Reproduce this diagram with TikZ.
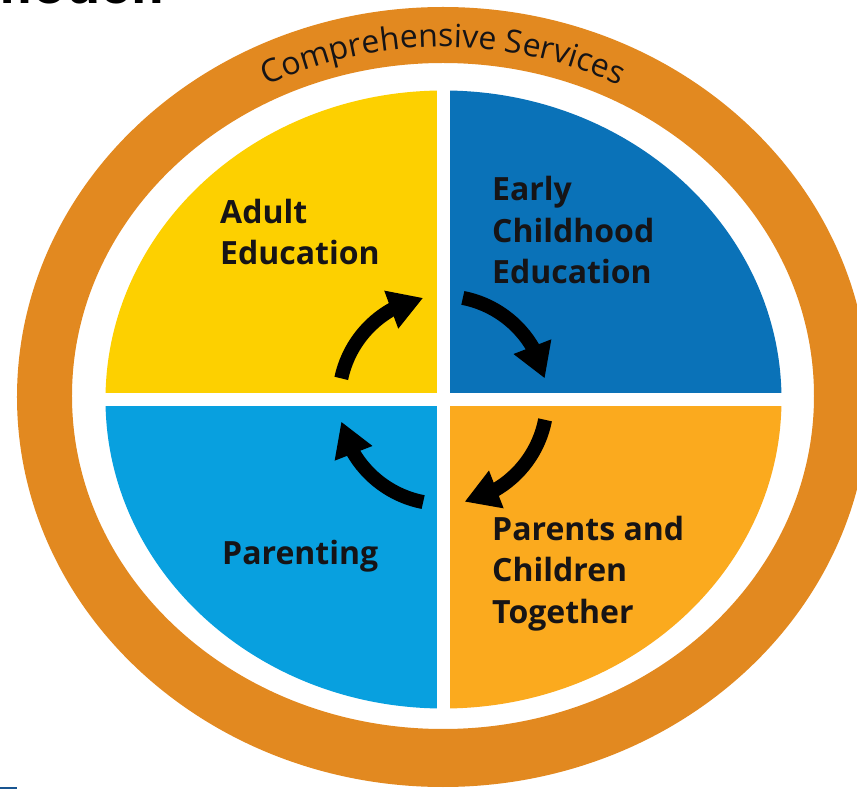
\documentclass[tikz,border=0pt]{standalone}
\usepackage{xcolor}
\usepackage{fontspec}
\setmainfont{Open Sans}
\newfontfamily\headfont{Liberation Sans}
\usetikzlibrary{arrows.meta, bending, calc, decorations.text}

\definecolor{ringorange}{RGB}{226,137,32}
\definecolor{adultyellow}{RGB}{253,208,0}
\definecolor{earlyblue}{RGB}{10,114,184}
\definecolor{parentblue}{RGB}{8,160,223}
\definecolor{togetherorange}{RGB}{251,170,30}
\definecolor{textdark}{RGB}{22,20,22}
\definecolor{linkblue}{RGB}{25,85,145}

\begin{document}
\begin{tikzpicture}[
  x=1pt, y=1pt,
  quadtext/.style={anchor=base west, align=left, inner sep=0pt, text=textdark, font=\fontsize{32}{41.5}\selectfont\bfseries},
  cyclearrow/.style={line width=14pt, -{Triangle[width=38pt, length=34pt]}},
  gapline/.style={white, line width=13pt}
]
\useasboundingbox (-443,-392) rectangle (414,397);

% Ring
\fill[ringorange, even odd rule] (0,0) ellipse[x radius=426, y radius=390]
  (0,1) ellipse[x radius=371, y radius=333];
\path[decorate, decoration={text along path, text align=center,
  text={|\fontsize{32}{32}\selectfont\color{textdark}|Comprehensive Services}}]
  (150:386 and 350) arc[start angle=150, end angle=30, x radius=386, y radius=350];

% Quadrants
\coordinate (qc) at (0.5,-2.5);
\begin{scope}
  \clip (qc) rectangle (-400,400);
  \fill[adultyellow] (qc) ellipse[x radius=338, y radius=309];
\end{scope}
\begin{scope}
  \clip (qc) rectangle (400,400);
  \fill[earlyblue] (qc) ellipse[x radius=338, y radius=309];
\end{scope}
\begin{scope}
  \clip (qc) rectangle (400,-400);
  \fill[togetherorange] (qc) ellipse[x radius=338, y radius=309];
\end{scope}
\begin{scope}
  \clip (qc) rectangle (-400,-400);
  \fill[parentblue] (qc) ellipse[x radius=338, y radius=309];
\end{scope}
\draw[gapline] ([yshift=-320pt]qc) -- ([yshift=320pt]qc);
\draw[gapline] ([xshift=-345pt]qc) -- ([xshift=345pt]qc);

% Labels (base = last line)
\node[quadtext] (adult) at (-223,132) {Adult\\Education};
\node[quadtext] (early) at (49,113) {Early\\Childhood\\Education};
\node[quadtext] (parenting) at (-221,-168) {Parenting};
\node[quadtext] (together) at (49,-226) {Parents and\\Children\\Together};

% Cycle
\coordinate (ac) at (0,-3);
\draw[cyclearrow] ($(ac)+(168:104)$) arc[start angle=168, end angle=101, radius=104];
\draw[cyclearrow] ($(ac)+(79:104)$) arc[start angle=79, end angle=12, radius=104];
\draw[cyclearrow] ($(ac)+(-11:104)$) arc[start angle=-11, end angle=-78, radius=104];
\draw[cyclearrow] ($(ac)+(-101:104)$) arc[start angle=-101, end angle=-168, radius=104];

% Cut heading and mark
\node[anchor=base east, inner sep=0pt, font=\headfont\fontsize{56}{56}\selectfont\bfseries] (heading) at (-277,393) {model:};
\fill[linkblue] (-443,-392) rectangle (-426,-390);

\end{tikzpicture}
\end{document}
